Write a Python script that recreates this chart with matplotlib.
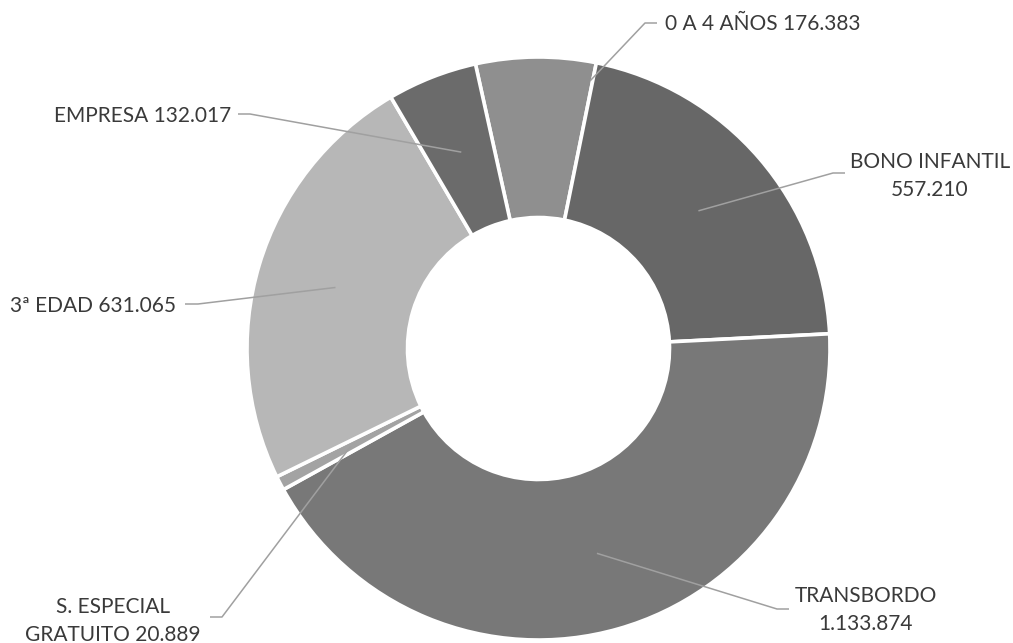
import matplotlib
matplotlib.use('Agg')
import numpy as np
import matplotlib.pyplot as plt

# pasajeros por tipo de tarifa
categorias = ['0 A 4 AÑOS', 'BONO INFANTIL', 'TRANSBORDO', 'S. ESPECIAL\nGRATUITO', '3ª EDAD', 'EMPRESA']
valores = [176383, 557210, 1133874, 20889, 631065, 132017]
colores = ['#8f8f8f', '#676767', '#787878', '#a3a3a3', '#b7b7b7', '#6b6b6b']

# separador entre nombre y cifra en cada etiqueta
separador = [' ', '\n', '\n', ' ', ' ', ' ']

W, H = 1013, 643
cx, cy = 538.5, H - 348.5
r_ext, r_int = 291.5, 131.0

# posicion de cada etiqueta en pixeles: (x texto, y texto, ha, codo x, fin x, y linea, t ancla, r ancla)
disposicion = [
    (665, 24, 'left', 645, 657, 23, 0.02, 273),
    (930, 176, 'center', 833, 845, 173, 0.5, 211),
    (866, 610, 'center', 777, 789, 609, 0.5, 213),
    (113, 621, 'center', 222, 210, 617, 0.5, 212),
    (176, 306, 'right', 198, 185, 304, 0.5, 212),
    (231, 116, 'right', 250, 238, 114, 0.5, 211),
]

plt.rcParams['font.family'] = ['Lato', 'DejaVu Sans']

fig = plt.figure(figsize=(W / 100, H / 100), dpi=100)
ax = fig.add_axes([0, 0, 1, 1])

wedges, _ = ax.pie(valores, colors=colores, startangle=102.5, counterclock=False,
                   center=(cx, cy), radius=r_ext,
                   wedgeprops=dict(width=r_ext - r_int, edgecolor='white', linewidth=2.6))

def fmt(v):
    return f'{v:,}'.replace(',', '.')

for w, nombre, sep, v, d in zip(wedges, categorias, separador, valores, disposicion):
    tx, ty, ha, ex, fx, ly, t, ra = d
    ang = np.radians(w.theta1 + t * (w.theta2 - w.theta1))
    ax_, ay_ = cx + ra * np.cos(ang), cy + ra * np.sin(ang)
    ax.plot([ax_, ex, fx], [ay_, H - ly, H - ly], color='#a0a0a0', lw=1.1,
            solid_capstyle='butt', zorder=3)
    ax.text(tx, H - ty, nombre + sep + fmt(v), ha=ha, va='center',
            multialignment='center', fontsize=15, color='#3a3a3a', linespacing=1.5)

ax.set_xlim(0, W)
ax.set_ylim(0, H)
ax.set_aspect('equal')
ax.axis('off')

fig.savefig('out.png', dpi=100, facecolor='white')
